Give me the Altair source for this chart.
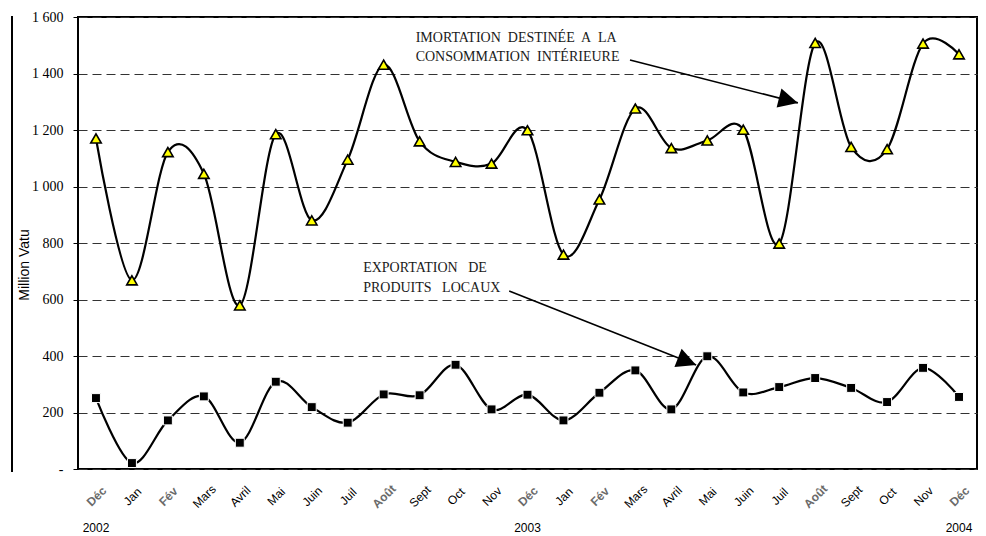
import altair as alt
import pandas as pd

# ---- data ----
months = ["Déc", "Jan", "Fév", "Mars", "Avril", "Mai", "Juin", "Juil", "Août", "Sept", "Oct", "Nov",
          "Déc", "Jan", "Fév", "Mars", "Avril", "Mai", "Juin", "Juil", "Août", "Sept", "Oct", "Nov", "Déc"]
imports = [1170, 668, 1122, 1045, 579, 1185, 880, 1095, 1431, 1160, 1087, 1081,
           1199, 759, 954, 1276, 1136, 1163, 1201, 798, 1508, 1140, 1132, 1506, 1468]
exports = [251, 21, 172, 257, 93, 309, 219, 164, 264, 261, 369, 211,
           263, 172, 270, 349, 211, 399, 271, 290, 322, 287, 237, 358, 255]
years = ["2002", "2003", "2004"]
year_index = [0, 12, 24]
y_ticks = [0, 200, 400, 600, 800, 1000, 1200, 1400, 1600]

# annotation texts (position in data units: category index, value)
ann_lines = ["IMORTATION\u00a0 DESTINÉE\u00a0 A\u00a0 LA",
             "CONSOMMATION\u00a0 INTÉRIEURE",
             "EXPORTATION\u00a0\u00a0 DE",
             "PRODUITS\u00a0\u00a0 LOCAUX"]
ann_x = [8.89, 8.89, 7.43, 7.43]
ann_y = [1525, 1457, 710, 640]

# arrows: start -> tip (data units)
arrow_x = [14.85, 11.49]
arrow_y = [1448, 630]
arrow_x2 = [19.52, 16.69]
arrow_y2 = [1296, 368]
arrow_angle = [14.3, 21.6]

df = pd.DataFrame({"i": list(range(len(months))), "month": months, "imp": imports, "exp": exports})
ann_df = pd.DataFrame({"x": ann_x, "y": ann_y, "t": ann_lines})
arr_df = pd.DataFrame({"x": arrow_x, "y": arrow_y, "x2": arrow_x2, "y2": arrow_y2, "ang": arrow_angle})
year_df = pd.DataFrame({"i": year_index, "t": years})

x_scale = alt.Scale(domain=[-0.5, len(months) - 0.5], nice=False, zero=False)
y_scale = alt.Scale(domain=[0, 1600], nice=False)

label_js = "[" + ",".join(f"'{m}'" for m in months) + "][datum.value]"
accent_idx = [i for i, m in enumerate(months) if m in ("Déc", "Fév", "Août")]
accent_test = "indexof([" + ",".join(str(i) for i in accent_idx) + "], datum.value) >= 0"

x_axis = alt.Axis(
    values=list(range(len(months))), labelExpr=label_js, labelAngle=-45,
    labelAlign="center", labelBaseline="middle", labelPadding=27,
    labelFont="Liberation Sans", labelFontSize=12,
    labelColor={"condition": {"test": accent_test, "value": "#6a6a6a"}, "value": "black"},
    labelFontWeight={"condition": {"test": accent_test, "value": "bold"}, "value": "normal"},
    ticks=False, domain=False, grid=False, labelOverlap=False, labelFlush=False,
    labelBound=False, title=None,
)
y_axis = alt.Axis(
    values=y_ticks,
    labelExpr="datum.value == 0 ? '-' : replace(format(datum.value, ','), ',', ' ')",
    labelFont="Liberation Serif", labelFontSize=14, labelColor="black", labelPadding=10,
    tickSize=5, tickColor="black", tickWidth=1, domain=False,
    grid=True, gridDash=[9, 5], gridColor="#333333", gridWidth=1, title=None,
)

base = alt.Chart(df)
X = alt.X("i:Q", scale=x_scale, axis=x_axis)

imp_line = base.mark_line(interpolate="cardinal", color="black", strokeWidth=2.2).encode(
    x=X, y=alt.Y("imp:Q", scale=y_scale, axis=y_axis))
exp_line = base.mark_line(interpolate="cardinal", color="black", strokeWidth=2.2).encode(
    x=X, y=alt.Y("exp:Q", scale=y_scale, axis=y_axis))
imp_pts = base.mark_point(shape="triangle-up", filled=True, fill="#FFFF00", stroke="black",
                          strokeWidth=1.6, size=110, opacity=1).encode(
    x=X, y=alt.Y("imp:Q", scale=y_scale, axis=y_axis))
exp_pts = base.mark_point(shape="square", filled=True, fill="black", stroke="white",
                          strokeWidth=1, size=80, opacity=1).encode(
    x=X, y=alt.Y("exp:Q", scale=y_scale, axis=y_axis))

ann = alt.Chart(ann_df).mark_text(align="left", baseline="middle", font="Liberation Serif",
                                  fontSize=14, color="#1a1a1a").encode(
    x=alt.X("x:Q", scale=x_scale, axis=x_axis), y=alt.Y("y:Q", scale=y_scale, axis=y_axis), text="t:N")
arrows = alt.Chart(arr_df).mark_rule(color="black", strokeWidth=1.6).encode(
    x=alt.X("x:Q", scale=x_scale, axis=x_axis), y=alt.Y("y:Q", scale=y_scale, axis=y_axis),
    x2="x2:Q", y2="y2:Q")
head_path = "M0,0 L-2,-1 L-2,1 Z"
head1 = alt.Chart(arr_df.iloc[[0]]).mark_point(shape=head_path, filled=True, fill="black",
                                              strokeWidth=0, size=380, opacity=1,
                                              angle=arrow_angle[0]).encode(
    x=alt.X("x2:Q", scale=x_scale, axis=x_axis), y=alt.Y("y2:Q", scale=y_scale, axis=y_axis))
head2 = alt.Chart(arr_df.iloc[[1]]).mark_point(shape=head_path, filled=True, fill="black",
                                              strokeWidth=0, size=380, opacity=1,
                                              angle=arrow_angle[1]).encode(
    x=alt.X("x2:Q", scale=x_scale, axis=x_axis), y=alt.Y("y2:Q", scale=y_scale, axis=y_axis))

year_txt = alt.Chart(year_df).mark_text(font="Liberation Sans", fontSize=12, color="black",
                                        baseline="middle").encode(
    x=alt.X("i:Q", scale=x_scale, axis=x_axis), y=alt.value(511), text="t:N")

ytitle = alt.Chart(pd.DataFrame({"t": ["Million Vatu"]})).mark_text(
    font="Liberation Sans", fontSize=14, angle=270, baseline="middle", align="center",
    color="black").encode(x=alt.value(-53), y=alt.value(248), text="t:N")

left_frame = alt.Chart(pd.DataFrame({"a": [0]})).mark_rule(color="black", strokeWidth=2).encode(
    x=alt.value(-66), y=alt.value(-1), y2=alt.value(455))

chart = alt.layer(
    imp_line, exp_line, arrows, head1, head2, imp_pts, exp_pts, ann, year_txt, ytitle, left_frame
).properties(
    width=899, height=452,
    autosize=alt.AutoSizeParams(type="none"),
    padding={"left": 70, "top": 9, "right": 1, "bottom": 65},
    background="white",
).configure_view(stroke="black", strokeWidth=2).configure_axisX(
    labelOverlap=False, labelFlush=False, labelBound=False
)

chart.save("out.html", embed_options={"renderer": "svg", "actions": False})
